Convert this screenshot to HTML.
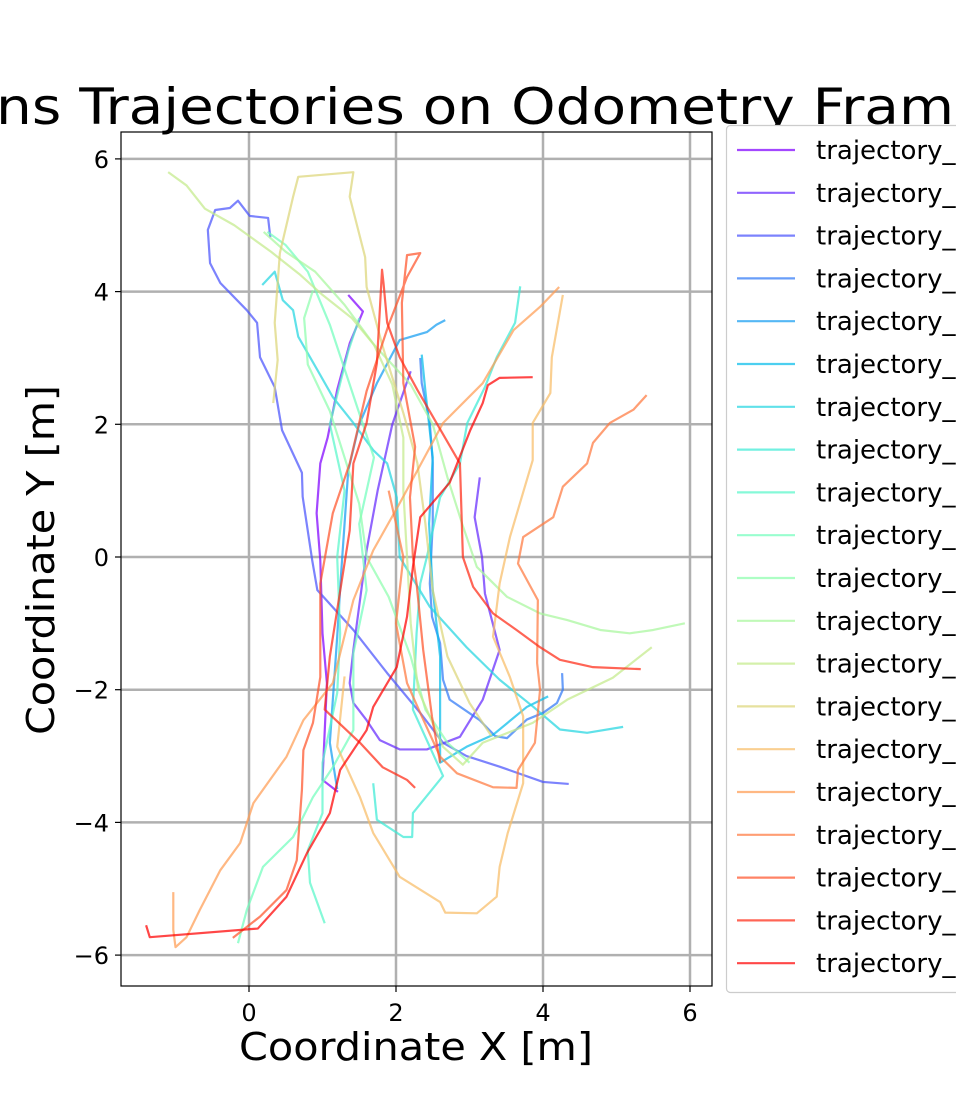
<!DOCTYPE html>
<html><head><meta charset="utf-8">
<style>
html,body{margin:0;padding:0;background:#fff;width:956px;height:1108px;overflow:hidden}
svg{display:block;font-family:"DejaVu Sans","Liberation Sans",sans-serif}
</style></head>
<body>
<svg id="chart" width="956" height="1108" viewBox="0 0 956 1108" xmlns="http://www.w3.org/2000/svg">
<text x="-4" y="124" font-size="50" textLength="958" lengthAdjust="spacingAndGlyphs">ns Trajectories on Odometry Fram</text>
<g id="grid"></g>
<g id="lines"></g>
<rect x="121" y="132" width="591" height="854" fill="none" stroke="#000" stroke-width="1.2"/>
<g id="ticks"></g>
<text x="416" y="1060" font-size="38" text-anchor="middle" textLength="354" lengthAdjust="spacingAndGlyphs">Coordinate X [m]</text>
<text transform="translate(54,560) rotate(-90)" font-size="38" text-anchor="middle" textLength="350" lengthAdjust="spacingAndGlyphs">Coordinate Y [m]</text>
<g id="legend"></g>
</svg>
<script>
const xTicks=[0,2,4,6];
const yTicks=[-6,-4,-2,0,2,4,6];
const s0=[[1.35,3.95],[1.55,3.7],[1.37,3.22],[1.2,2.52],[1.07,1.8],[0.97,1.41],[0.92,0.66],[0.97,-0.05],[1.0,-1.15],[1.06,-1.9],[1.0,-3.36],[1.21,-3.54]];
const s1=[[3.14,1.2],[3.07,0.6],[3.17,0],[3.21,-0.55],[3.41,-1.4],[3.18,-2.15],[2.87,-2.71],[2.42,-2.9],[2.05,-2.9],[1.78,-2.76],[1.6,-2.46],[1.42,-2.2],[1.37,-1.9],[1.42,-1.4],[1.51,-0.65],[1.6,0.1],[1.75,1.0],[1.95,2.0],[2.2,2.8]];
const s2=[[0.29,4.82],[0.26,5.11],[0.01,5.14],[-0.15,5.37],[-0.26,5.26],[-0.46,5.23],[-0.56,4.93],[-0.53,4.43],[-0.39,4.13],[-0.03,3.72],[0.11,3.53],[0.15,3.01],[0.35,2.56],[0.45,1.91],[0.72,1.27],[0.73,0.91],[0.86,-0.05],[0.93,-0.5],[1.42,-1.1],[1.88,-1.75],[2.33,-2.35],[2.64,-2.8],[2.96,-3.0],[3.41,-3.16],[4.0,-3.39],[4.35,-3.42]];
const s3=[[4.26,-1.75],[4.27,-2.0],[4.19,-2.2],[4.0,-2.35],[3.78,-2.45],[3.51,-2.73],[3.35,-2.7],[3.14,-2.46],[2.73,-2.15],[2.64,-1.85],[2.6,-1.3],[2.49,-0.9],[2.46,-0.4],[2.5,0.5],[2.5,1.42],[2.46,2.02],[2.35,2.62],[2.33,3.0]];
const s4=[[2.67,3.57],[2.55,3.5],[2.42,3.39],[2.05,3.27],[1.74,2.62],[1.5,2.0],[1.35,1.3],[1.3,0.5],[1.25,-0.3],[1.2,-1.2],[1.15,-2],[1.1,-2.8],[1.2,-3.5]];
const s5=[[2.35,3.05],[2.4,2.5],[2.5,1.5],[2.45,0.5],[2.5,-0.5],[2.6,-1.5],[2.6,-2.5],[2.6,-3.1],[2.96,-2.86],[3.32,-2.68],[3.78,-2.26],[4.07,-2.1]];
const s6=[[0.18,4.1],[0.35,4.3],[0.46,3.87],[0.6,3.72],[0.67,3.32],[0.93,2.82],[1.14,2.41],[1.42,2.02],[1.69,1.61],[1.88,1.41],[2.01,0.9],[2.05,0],[2.46,-0.75],[2.96,-1.36],[3.41,-1.85],[3.87,-2.26],[4.23,-2.6],[4.6,-2.65],[5.09,-2.56]];
const s7=[[3.69,4.08],[3.62,3.53],[3.37,3.01],[3.21,2.56],[2.97,2.02],[2.87,1.41],[2.6,0.9],[2.42,0],[2.33,-0.4],[2.28,-1.15],[2.23,-2.3],[2.64,-3.3],[2.23,-3.86],[2.22,-4.22],[2.1,-4.22],[1.74,-3.96],[1.69,-3.41]];
const s8=[[1.03,-5.52],[0.83,-4.91],[0.8,-4.42],[1.0,-3.86],[1.0,-3.1],[1.2,-2.05],[1.24,-1.15],[1.2,0],[1.3,1.0],[1.1,2.0],[1.35,3.1],[1.5,3.6]];
const s9=[[-0.15,-5.82],[-0.03,-5.32],[0.19,-4.67],[0.6,-4.22],[0.87,-3.62],[1.14,-3.17],[1.42,-2.61],[1.42,-1.45],[1.6,-0.5],[1.5,0.5],[1.7,1.5],[1.4,2.5],[1.1,3.5],[0.8,4.3],[0.5,4.7],[0.25,4.9]];
const s10=[[0.87,4.02],[0.75,3.6],[0.8,2.9],[1.1,2.2],[1.3,1.5],[1.5,0.8],[1.6,0],[1.9,-0.6],[2.2,-1.5],[2.4,-2.3],[2.7,-2.8],[3.0,-3.1]];
const s11=[[5.93,-1.0],[5.5,-1.1],[5.18,-1.15],[4.78,-1.1],[4.33,-0.95],[3.96,-0.85],[3.51,-0.6],[3.1,-0.15],[2.9,0.5],[2.7,1.2],[2.5,2.0],[2.2,2.6],[1.7,3.2],[1.3,3.8],[0.9,4.3],[0.5,4.6],[0.2,4.9]];
const s12=[[-1.1,5.8],[-0.85,5.6],[-0.6,5.25],[-0.2,5.0],[0.3,4.6],[0.7,4.25],[1.0,3.95],[1.4,3.6],[1.7,3.2],[1.95,2.6],[2.1,1.8],[2.1,1.0],[2.15,0],[2.2,-1],[2.3,-2],[2.64,-2.86],[2.91,-3.13],[3.18,-2.8],[3.86,-2.5],[4.33,-2.15],[4.95,-1.82],[5.48,-1.36]];
const s13=[[0.33,2.32],[0.39,2.97],[0.35,3.53],[0.42,4.58],[0.6,5.43],[0.67,5.73],[1.42,5.8],[1.37,5.43],[1.58,4.52],[1.6,4.07],[1.82,3.17],[2.1,2.17],[2.29,1.42],[2.4,0.5],[2.5,-0.5],[2.7,-1.5],[3.0,-2.2],[3.3,-2.7]];
const s14=[[4.27,3.95],[4.12,3.01],[4.1,2.47],[3.86,2.02],[3.86,1.46],[3.71,0.9],[3.55,0.3],[3.41,-0.4],[3.32,-1.2],[3.55,-1.81],[3.73,-2.4],[3.73,-2.8],[3.73,-3.41],[3.52,-4.16],[3.41,-4.67],[3.37,-5.12],[3.1,-5.37],[2.67,-5.36],[2.6,-5.2],[2.05,-4.82],[1.69,-4.16],[1.51,-3.62],[1.2,-2.86],[1.3,-1.8]];
const s15=[[-1.03,-5.05],[-1.03,-5.62],[-1.0,-5.88],[-0.85,-5.73],[-0.67,-5.32],[-0.39,-4.72],[-0.12,-4.31],[0.06,-3.71],[0.51,-3.01],[0.74,-2.46],[1.14,-1.9],[1.42,-0.65],[1.69,0.1],[2.05,0.81],[2.64,2.02],[3.18,2.62],[3.6,3.42],[3.96,3.77],[4.22,4.07]];
const s16=[[5.41,2.44],[5.23,2.22],[4.91,2.02],[4.68,1.72],[4.6,1.41],[4.27,1.06],[4.14,0.6],[3.73,0.3],[3.66,-0.1],[3.93,-0.65],[3.92,-1.6],[3.96,-2.0],[3.89,-2.8],[3.66,-3.21],[3.64,-3.48],[3.32,-3.47],[2.83,-3.26],[2.6,-3.01],[2.33,-2.35],[2.15,-1.9],[2.0,-1.0],[2.1,0],[1.9,1.0]];
const s17=[[-0.22,-5.74],[0.15,-5.42],[0.51,-5.02],[0.65,-4.57],[0.72,-3.51],[0.74,-2.91],[0.87,-2.5],[0.97,-1.81],[0.97,-0.4],[1.14,0.66],[1.37,1.41],[1.6,2.5],[1.9,3.5],[2.15,4.22],[2.33,4.58],[2.15,4.55],[2.08,3.83],[2.1,2.62],[2.26,1.66],[2.19,0.9],[2.23,0],[2.28,-0.4],[2.37,-1.4],[2.49,-2.41],[2.6,-3.1]];
const s18=[[5.33,-1.69],[4.68,-1.66],[4.23,-1.55],[3.96,-1.36],[3.64,-1.1],[3.32,-0.85],[3.05,-0.45],[2.91,0],[2.87,1.41],[2.29,2.52],[2.05,3.01],[1.88,3.53],[1.83,4.13],[1.81,4.33],[1.74,2.92],[1.6,2.02],[1.42,1.41],[1.37,0.4],[1.1,-1.5],[1.03,-2.3],[1.51,-2.8],[1.82,-3.17],[2.15,-3.36],[2.26,-3.48]];
const s19=[[-1.4,-5.55],[-1.35,-5.73],[0.12,-5.6],[0.51,-5.12],[0.79,-4.46],[1.1,-3.86],[1.24,-3.21],[1.6,-2.61],[1.69,-2.26],[2.01,-1.66],[2.15,-0.9],[2.23,-0.15],[2.33,0.6],[2.73,1.12],[3.01,1.91],[3.18,2.32],[3.25,2.59],[3.41,2.7],[3.86,2.71]];
const series=[s0,s1,s2,s3,s4,s5,s6,s7,s8,s9,s10,s11,s12,s13,s14,s15,s16,s17,s18,s19];
const seriesNames=series.map((_,i)=>'trajectory_'+i);

const X0=249, XS=73.5, Y0=557, YS=66.35;
const sx=v=>X0+v*XS, sy=v=>Y0-v*YS;
const NS='http://www.w3.org/2000/svg';
function mk(tag,attrs,parent){const e=document.createElementNS(NS,tag);for(const k in attrs)e.setAttribute(k,attrs[k]);parent.appendChild(e);return e;}
function col(i){const x=i/(series.length-1);const r=Math.min(1,Math.abs(2*x-0.5)),g=Math.sin(Math.PI*x),b=Math.cos(Math.PI*x/2);return `rgb(${Math.round(r*255)},${Math.round(g*255)},${Math.round(b*255)})`;}
const grid=document.getElementById('grid'),ticks=document.getElementById('ticks'),lines=document.getElementById('lines'),legend=document.getElementById('legend');
xTicks.forEach(t=>{
  const g=mk('line',{x1:sx(t),x2:sx(t),y1:132,y2:986,stroke:'#b0b0b0','stroke-width':2.5},grid);
  
  
  const tk=mk('line',{x1:sx(t),x2:sx(t),y1:986,y2:992,stroke:'#000','stroke-width':1.2},ticks);
  
  
  const tl=mk('text',{x:sx(t),y:1021,'font-size':24,'text-anchor':'middle'},ticks);
  
  
  tl.textContent=t<0?'\u2212'+(-t):t;
});
yTicks.forEach(t=>{
  const g=mk('line',{x1:121,x2:712,y1:sy(t),y2:sy(t),stroke:'#b0b0b0','stroke-width':2.5},grid);
  
  
  const tk=mk('line',{x1:115,x2:121,y1:sy(t),y2:sy(t),stroke:'#000','stroke-width':1.2},ticks);
  
  
  const tl=mk('text',{x:109,y:sy(t)+9,'font-size':24,'text-anchor':'end'},ticks);
  
  
  tl.textContent=t<0?'\u2212'+(-t):t;
});
const clip=mk('clipPath',{id:'pc'},mk('defs',{},document.getElementById('chart')));
mk('rect',{x:121,y:132,width:591,height:854},clip);
lines.setAttribute('clip-path','url(#pc)');
series.forEach((s,i)=>{
  const p=mk('polyline',{points:s.map(d=>sx(d[0])+','+sy(d[1])).join(' '),fill:'none',stroke:col(i),'stroke-opacity':0.72,'stroke-width':2.2,'stroke-linejoin':'round'},lines);
  
  
});
const box=mk('rect',{x:726.5,y:125.5,width:260,height:867,rx:4,fill:'#fff',stroke:'#ccc','stroke-width':1.2},legend);


seriesNames.forEach((n,i)=>{
  const y=150+i*42.8;
  const g=mk('g',{},legend);
  
  
  mk('line',{x1:737,x2:795,y1:y,y2:y,stroke:col(i),'stroke-opacity':0.72,'stroke-width':2.2},g);
  const t=mk('text',{x:816,y:y+9,'font-size':26},g);
  t.textContent=n;
});
</script>
</body></html>
